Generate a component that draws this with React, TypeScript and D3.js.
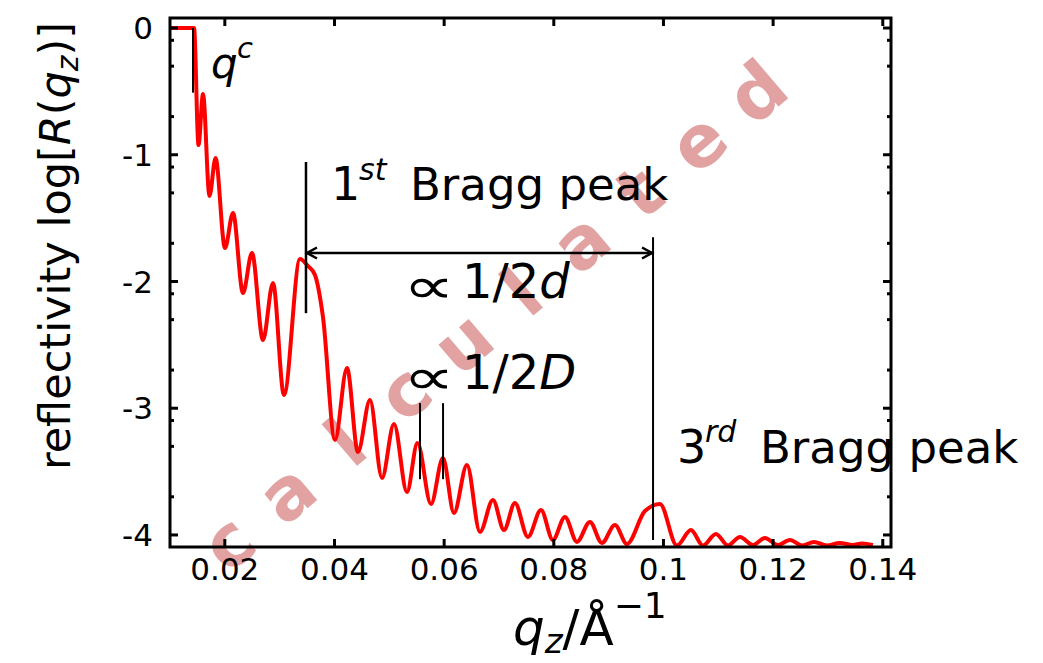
import React from "react";
import * as d3 from "d3";

// ---- data ----
const qValues = [
  0.01, 0.01438, 0.0152, 0.01602, 0.0172, 0.0183, 0.02003, 0.02149, 0.02331, 0.02495,
  0.02696, 0.02878, 0.03079, 0.03371, 0.03517, 0.03644, 0.0379, 0.04009, 0.04228, 0.04428,
  0.04647, 0.04866, 0.05085, 0.05322, 0.05513, 0.0576, 0.05978, 0.06179, 0.06416, 0.06653,
  0.0689, 0.07091, 0.07291, 0.07528, 0.07766, 0.07984, 0.08203, 0.08422, 0.08659, 0.08878,
  0.09115, 0.09334, 0.09662, 0.09936, 0.10246, 0.10501, 0.1072, 0.10957, 0.11176, 0.11395,
  0.11632, 0.1185, 0.12087, 0.12306, 0.12525, 0.12744, 0.12981, 0.13218, 0.13455, 0.13619,
  0.1382,
];
const logR = [
  0, 0, -0.923, -0.521, -1.325, -1.026, -1.736, -1.46, -2.091, -1.775,
  -2.462, -2.012, -2.896, -1.822, -1.878, -1.949, -2.28, -3.25, -2.682, -3.345,
  -2.935, -3.55, -3.124, -3.661, -3.274, -3.755, -3.393, -3.826, -3.448, -3.976,
  -3.724, -3.961, -3.748, -4.016, -3.803, -4.039, -3.858, -4.055, -3.897, -4.063,
  -3.921, -4.071, -3.811, -3.755, -4.083, -3.961, -4.083, -3.992, -4.083, -4.016,
  -4.079, -4.024, -4.079, -4.039, -4.083, -4.055, -4.083, -4.063, -4.079, -4.067,
  -4.079,
];
const xTicks = [0.02, 0.04, 0.06, 0.08, 0.1, 0.12, 0.14];
const xTickLabels = ["0.02", "0.04", "0.06", "0.08", "0.1", "0.12", "0.14"];
const yTicks = [0, -1, -2, -3, -4];
const yTickLabels = ["0", "-1", "-2", "-3", "-4"];
const yMinorOffsets = [-0.097, -0.301, -0.699];
const watermarkLetters = ["c", "a", "l", "c", "u", "l", "a", "t", "e", "d"];

// annotation positions (data units)
const qCritical = 0.0142;
const qBragg1 = 0.0348;
const qBragg3 = 0.0981;
const qFringes = [0.0556, 0.0598];

const W = 1043;
const H = 663;
const FONT = "DejaVu Sans";

export default function App() {
  const x = d3.scaleLinear().domain([0.01, 0.1415]).range([170, 891]);
  const y = d3.scaleLinear().domain([-4.095, 0.079]).range([547, 18]);
  const [x0, x1] = x.range();
  const [y0, y1] = y.range();

  const path =
    d3
      .line<number>()
      .x((_, i) => x(qValues[i]))
      .y((d) => y(d))
      .curve(d3.curveMonotoneX)(logR) || "";

  const minorTicks: number[] = [];
  yTicks.forEach((t) =>
    yMinorOffsets.forEach((o) => {
      const v = t + o;
      if (v > y.domain()[0]) minorTicks.push(v);
    })
  );

  // watermark geometry
  const wmStart = [228, 543];
  const wmEnd = [757, 92];
  const n = watermarkLetters.length - 1;
  const angle = (Math.atan2(wmEnd[1] - wmStart[1], wmEnd[0] - wmStart[0]) * 180) / Math.PI;

  const arrowY = y(-1.775);
  const ax0 = x(qBragg1);
  const ax1 = x(qBragg3);

  return (
    <div style={{ position: "absolute", left: 0, top: 0 }}>
      <svg width={W} height={H} viewBox={`0 0 ${W} ${H}`} style={{ display: "block", background: "#fff" }}>
        <rect x={0} y={0} width={W} height={H} fill="#fff" />

        {/* watermark */}
        <g fill="rgb(226,162,162)" fontFamily={FONT} fontWeight="bold" fontSize={72}>
          {watermarkLetters.map((l, i) => {
            const px = wmStart[0] + ((wmEnd[0] - wmStart[0]) * i) / n;
            const py = wmStart[1] + ((wmEnd[1] - wmStart[1]) * i) / n;
            return (
              <text
                key={i}
                x={0}
                y={0}
                textAnchor="middle"
                dominantBaseline="central"
                transform={`translate(${px},${py}) rotate(${angle})`}
              >
                {l}
              </text>
            );
          })}
        </g>

        {/* curve */}
        <path d={path} fill="none" stroke="#ff0000" strokeWidth={4} strokeLinejoin="round" />

        {/* annotation lines */}
        <g stroke="#000" strokeWidth={2} fill="none">
          <line x1={x(qCritical)} x2={x(qCritical)} y1={y(0)} y2={y(-0.51)} />
          <line x1={ax0} x2={ax0} y1={y(-1.057)} y2={y(-2.25)} strokeWidth={2.5} />
          <line x1={ax1} x2={ax1} y1={y(-1.65)} y2={y(-4.04)} />
          {qFringes.map((q, i) => (
            <line key={i} x1={x(q)} x2={x(q)} y1={y(-2.96)} y2={y(-3.56)} />
          ))}
          <line x1={ax0} x2={ax1} y1={arrowY} y2={arrowY} strokeWidth={2.5} />
          <path d={`M${ax0 + 11},${arrowY - 5.5} L${ax0 + 1},${arrowY} L${ax0 + 11},${arrowY + 5.5}`} strokeWidth={2.5} />
          <path d={`M${ax1 - 11},${arrowY - 5.5} L${ax1 - 1},${arrowY} L${ax1 - 11},${arrowY + 5.5}`} strokeWidth={2.5} />
        </g>

        {/* frame and ticks */}
        <g stroke="#000" strokeWidth={3} fill="none">
          {xTicks.map((t, i) => (
            <g key={i}>
              <line x1={x(t)} x2={x(t)} y1={y0} y2={y0 - 8} />
              <line x1={x(t)} x2={x(t)} y1={y1} y2={y1 + 8} />
            </g>
          ))}
          {yTicks.map((t, i) => (
            <g key={i}>
              <line x1={x0} x2={x0 + 8} y1={y(t)} y2={y(t)} />
              <line x1={x1} x2={x1 - 8} y1={y(t)} y2={y(t)} />
            </g>
          ))}
          {minorTicks.map((t, i) => (
            <g key={i}>
              <line x1={x0} x2={x0 + 4} y1={y(t)} y2={y(t)} />
              <line x1={x1} x2={x1 - 4} y1={y(t)} y2={y(t)} />
            </g>
          ))}
          <rect x={x0} y={y1} width={x1 - x0} height={y0 - y1} />
        </g>

        {/* tick labels */}
        <g fontFamily={FONT} fontSize={31} fill="#000">
          {xTicks.map((t, i) => (
            <text key={i} x={x(t)} y={580} textAnchor="middle">
              {xTickLabels[i]}
            </text>
          ))}
          {yTicks.map((t, i) => (
            <text key={i} x={153} y={y(t)} dy="0.36em" textAnchor="end">
              {yTickLabels[i]}
            </text>
          ))}
        </g>

        {/* axis labels */}
        <g fontFamily={FONT} fill="#000">
          <text transform="translate(70,246) rotate(-90)" textAnchor="middle" fontSize={43}>
            reflectivity log[<tspan fontStyle="italic">R</tspan>(<tspan fontStyle="italic">q</tspan>
            <tspan fontStyle="italic" fontSize={30} dy={8}>z</tspan>
            <tspan dy={-8}>)]</tspan>
          </text>
          <text x={513} y={645} fontSize={50}>
            <tspan fontStyle="italic">q</tspan>
            <tspan fontStyle="italic" fontSize={34} dy={8}>z</tspan>
            <tspan dy={-8}>/Å</tspan>
            <tspan fontSize={36} dy={-27}>−1</tspan>
          </text>
        </g>

        {/* annotations text */}
        <g fontFamily={FONT} fill="#000">
          <text x={211} y={78} fontSize={42} fontStyle="italic">q</text>
          <text x={237} y={58} fontSize={29} fontStyle="italic">c</text>

          <text x={331} y={200} fontSize={46}>1</text>
          <text x={359} y={180} fontSize={30} fontStyle="italic">st</text>
          <text x={410} y={200} fontSize={45}>Bragg peak</text>

          <text transform="translate(403,303) scale(1.45,1)" fontSize={50}>∝</text>
          <text x={462} y={298} fontSize={48}>
            1/2<tspan fontStyle="italic">d</tspan>
          </text>
          <text transform="translate(403,394) scale(1.45,1)" fontSize={50}>∝</text>
          <text x={462} y={389} fontSize={48}>
            1/2<tspan fontStyle="italic">D</tspan>
          </text>

          <text x={677} y={463} fontSize={46}>3</text>
          <text x={705} y={442} fontSize={30} fontStyle="italic">rd</text>
          <text x={760} y={463} fontSize={45}>Bragg peak</text>
        </g>
      </svg>
    </div>
  );
}
